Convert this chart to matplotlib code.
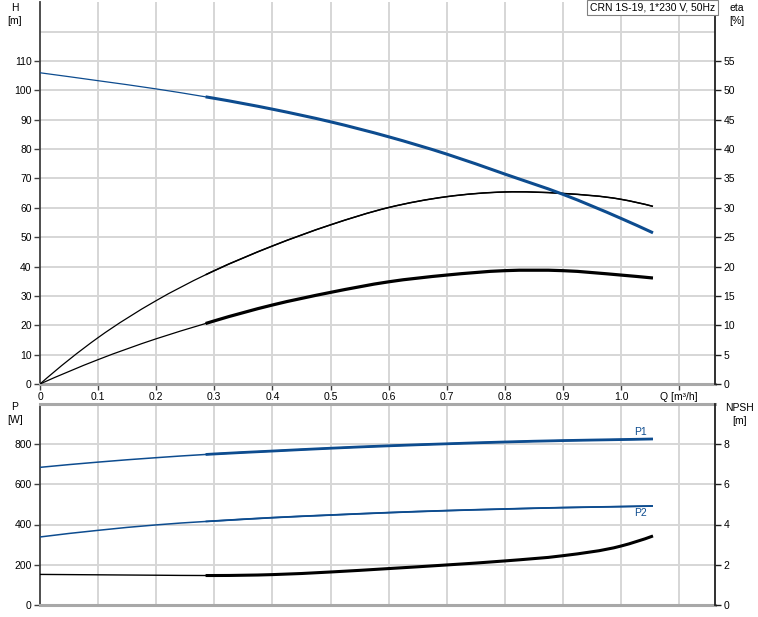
import matplotlib
matplotlib.use('Agg')
import matplotlib.pyplot as plt
from matplotlib.path import Path
from matplotlib.patches import PathPatch
import numpy as np

plt.rcParams['font.family'] = ['Liberation Sans', 'DejaVu Sans']
plt.rcParams['font.size'] = 7.5

# 数据
q = [0, 0.1, 0.2, 0.285, 0.3, 0.4, 0.5, 0.6, 0.7, 0.8, 0.9, 1.0, 1.055]
head = [106.0, 103.3, 100.5, 97.8, 97.3, 93.6, 89.3, 84.2, 78.3, 71.5, 64.6, 56.4, 51.5]
eta_pump = [0, 7.9, 14.2, 18.6, 19.3, 23.5, 27.1, 30.05, 31.9, 32.7, 32.45, 31.45, 30.25]
eta_total = [0, 4.15, 7.7, 10.3, 10.75, 13.45, 15.6, 17.4, 18.55, 19.3, 19.3, 18.55, 18.05]
p1 = [684, 710, 732, 748, 750.5, 765, 779, 791, 801, 810, 817, 822, 825]
p2 = [338, 371, 398, 415, 417.5, 434, 447, 459, 469, 477, 484, 489, 492]
npsh = [1.52, 1.50, 1.48, 1.465, 1.465, 1.51, 1.64, 1.81, 1.99, 2.19, 2.45, 2.93, 3.43]
i_op = 3  # 粗线从 q=0.285 开始

title = 'CRN 1S-19, 1*230 V, 50Hz'
x_ticks = [0, 0.1, 0.2, 0.3, 0.4, 0.5, 0.6, 0.7, 0.8, 0.9, 1.0, 1.1]
x_labels = ['0', '0.1', '0.2', '0.3', '0.4', '0.5', '0.6', '0.7', '0.8', '0.9', '1.0', 'Q [m³/h]']

blue = '#0d4c8f'
grid_c = '#d6d6d6'
W, H = 758, 617


def smooth_path(x, y, start=0):
    # 用三次贝塞尔曲线画过数据点 (Hermite 切线)
    x = np.asarray(x, float)
    y = np.asarray(y, float)
    h = np.diff(x)
    d = np.diff(y) / h
    m = np.empty_like(y)
    m[1:-1] = (h[:-1] * d[1:] + h[1:] * d[:-1]) / (h[:-1] + h[1:])
    m[0] = 2 * d[0] - m[1]
    m[-1] = 2 * d[-1] - m[-2]
    verts = [(x[start], y[start])]
    codes = [Path.MOVETO]
    for i in range(start, len(x) - 1):
        verts += [(x[i] + h[i] / 3, y[i] + m[i] * h[i] / 3),
                  (x[i + 1] - h[i] / 3, y[i + 1] - m[i + 1] * h[i] / 3),
                  (x[i + 1], y[i + 1])]
        codes += [Path.CURVE4] * 3
    return Path(verts, codes)


def curve(ax, y, color, lw_thin, lw_thick, z=3):
    ax.add_patch(PathPatch(smooth_path(q, y), fill=False, ec=color, lw=lw_thin, zorder=z))
    ax.add_patch(PathPatch(smooth_path(q, y, i_op), fill=False, ec=color, lw=lw_thick,
                           zorder=z, capstyle='butt'))


def style_axes(ax):
    ax.spines['top'].set_visible(False)
    ax.spines['left'].set_color('#404040')
    ax.spines['left'].set_linewidth(1.3)
    ax.spines['right'].set_visible(False)
    ax.spines['bottom'].set_color('#a8a8a8')
    ax.spines['bottom'].set_linewidth(2.2)
    ax.tick_params(length=4, width=1, color='#404040', pad=2, labelsize=7.5)
    ax.set_xlim(0, 675 / 581)
    for x in x_ticks[1:]:
        ax.axvline(x, color=grid_c, lw=1.4, zorder=0)


def style_twin(ax):
    for s in ['top', 'left', 'bottom']:
        ax.spines[s].set_visible(False)
    ax.spines['right'].set_color('#202020')
    ax.spines['right'].set_linewidth(1.3)
    ax.tick_params(length=4, width=1, color='#202020', pad=2, labelsize=7.5)


fig = plt.figure(figsize=(W / 100, H / 100), dpi=100)

# 上图: 扬程和效率
ax1 = fig.add_axes([40 / W, 1 - 384 / H, 675 / W, 381.7 / H])
style_axes(ax1)
ax1.set_ylim(0, 130)
ax1.set_yticks(range(0, 120, 10))
for y in range(10, 130, 10):
    ax1.axhline(y, color=grid_c, lw=1.4, zorder=0)
ax1.set_xticks(x_ticks)
ax1.set_xticklabels(x_labels)

ax1e = ax1.twinx()
ax1e.set_ylim(0, 65)
ax1e.set_yticks(range(0, 60, 5))
style_twin(ax1e)

curve(ax1e, eta_pump, 'black', 0.9, 1.1)
curve(ax1e, eta_total, 'black', 0.9, 2.3)
curve(ax1e, np.array(head) / 2, blue, 0.9, 2.2, z=4)

ax1e.text(1.0, 1.0, title, transform=ax1e.transAxes, ha='right', va='top',
          fontsize=7.5, bbox=dict(boxstyle='square,pad=0.25', fc='white',
                                   ec='#808080', lw=0.8), zorder=10)

fig.text(15 / W, 1 - 8 / H, 'H', ha='center', va='center', fontsize=7.5)
fig.text(15 / W, 1 - 21 / H, '[m]', ha='center', va='center', fontsize=7.5)
fig.text(737 / W, 1 - 8 / H, 'eta', ha='center', va='center', fontsize=7.5)
fig.text(737 / W, 1 - 21 / H, '[%]', ha='center', va='center', fontsize=7.5)

# 下图: 功率和NPSH
ax2 = fig.add_axes([40 / W, 1 - 605 / H, 675 / W, 201.25 / H])
style_axes(ax2)
ax2.spines['top'].set_visible(True)
ax2.spines['top'].set_color('#a8a8a8')
ax2.spines['top'].set_linewidth(2.2)
ax2.set_ylim(0, 1000)
ax2.set_yticks(range(0, 1000, 200))
for y in range(200, 1000, 200):
    ax2.axhline(y, color=grid_c, lw=1.4, zorder=0)
ax2.set_xticks(x_ticks)
ax2.tick_params(axis='x', length=0, labelbottom=False)

ax2n = ax2.twinx()
ax2n.set_ylim(0, 10)
ax2n.set_yticks(range(0, 10, 2))
style_twin(ax2n)

curve(ax2n, npsh, 'black', 1.0, 2.2)
curve(ax2, p2, blue, 1.1, 1.3)
curve(ax2, p1, blue, 1.1, 2.0)
ax2.text(q[-1] - 0.01, p1[-1] + 12, 'P1', color=blue, ha='right', va='bottom', fontsize=7.5)
ax2.text(q[-1] - 0.01, p2[-1] - 12, 'P2', color=blue, ha='right', va='top', fontsize=7.5)

fig.text(15 / W, 1 - 407 / H, 'P', ha='center', va='center', fontsize=7.5)
fig.text(15 / W, 1 - 420 / H, '[W]', ha='center', va='center', fontsize=7.5)
fig.text(740 / W, 1 - 408 / H, 'NPSH', ha='center', va='center', fontsize=7.5)
fig.text(740 / W, 1 - 421 / H, '[m]', ha='center', va='center', fontsize=7.5)

fig.savefig('out.png', dpi=100)
